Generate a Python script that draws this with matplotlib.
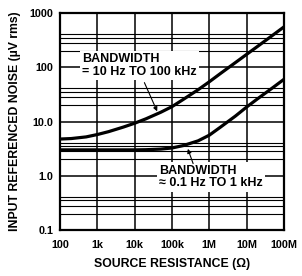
import matplotlib
matplotlib.use("Agg")
import matplotlib.pyplot as plt

# Data
resistance = [1e2, 2e2, 5e2, 1e3, 2e3, 5e3, 1e4, 2e4, 5e4, 1e5, 2e5, 5e5,
              1e6, 2e6, 5e6, 1e7, 2e7, 5e7, 1e8]
noise_wide = [4.75, 4.85, 5.2, 5.75, 6.5, 7.9, 9.3, 11.2, 14.8, 18.8, 25.5, 38.5,
              54, 77, 122, 173, 245, 390, 555]
noise_narrow = [3.0, 3.0, 3.0, 3.0, 3.0, 3.0, 3.0, 3.02, 3.1, 3.25, 3.6, 4.4,
                5.6, 7.9, 12.6, 18.5, 26.5, 42, 60]

x_ticks = [1e2, 1e3, 1e4, 1e5, 1e6, 1e7, 1e8]
x_labels = ["100", "1k", "10k", "100k", "1M", "10M", "100M"]
y_ticks = [0.1, 1, 10, 100, 1000]
y_labels = ["0.1", "1.0", "10.0", "100", "1000"]
minor_mult = [2, 2.8, 3.5, 4.1]

plt.rcParams['font.family'] = ['Liberation Sans', 'DejaVu Sans']
plt.rcParams['font.weight'] = 'bold'

fig = plt.figure(figsize=(3.02, 2.76), dpi=100)
ax = fig.add_axes([60/302, 1-230/276, 224/302, 217/276])
ax.set_xscale('log')
ax.set_yscale('log')
ax.set_xlim(1e2, 1e8)
ax.set_ylim(0.1, 1000)

# grid
for xv in x_ticks[1:-1]:
    ax.axvline(xv, color='black', lw=1.1, zorder=1)
for yv in y_ticks[1:-1]:
    ax.axhline(yv, color='black', lw=1.1, zorder=1)
for dec in y_ticks[:-1]:
    for m in minor_mult:
        ax.axhline(dec*m, color='black', lw=0.8, zorder=1)

ax.plot(resistance, noise_wide, color='black', lw=2.3, zorder=3,
        solid_capstyle='butt', solid_joinstyle='round')
ax.plot(resistance, noise_narrow, color='black', lw=2.3, zorder=3,
        solid_capstyle='butt', solid_joinstyle='round')

ax.set_xticks(x_ticks)
ax.set_xticklabels(x_labels)
ax.set_yticks(y_ticks)
ax.set_yticklabels(y_labels)
ax.minorticks_off()
ax.tick_params(length=0, labelsize=7.8, pad=5)
ax.tick_params(axis='x', pad=7)
for lab in ax.get_xticklabels() + ax.get_yticklabels():
    lab.set_fontweight('bold')
for s in ax.spines.values():
    s.set_linewidth(1.6)

ax.set_xlabel("SOURCE RESISTANCE (Ω)", fontsize=8.8, fontweight='bold', labelpad=6)
ax.set_ylabel("INPUT REFERENCED NOISE (µV rms)", fontsize=8.8, fontweight='bold', labelpad=6)

box = dict(facecolor='white', edgecolor='none', pad=1.5)
ax.text(390, 107, "BANDWIDTH\n= 10 Hz TO 100 kHz", fontsize=9, fontweight='bold',
        ha='left', va='center', bbox=box, zorder=4, linespacing=1.1)
ax.text(4.5e4, 0.95, "BANDWIDTH\n≈ 0.1 Hz TO 1 kHz", fontsize=9, fontweight='bold',
        ha='left', va='center', bbox=box, zorder=4, linespacing=1.1)

ax.annotate("", xy=(4.3e4, 13.8), xytext=(1.7e4, 58),
            arrowprops=dict(arrowstyle='-|>', color='black', lw=0.8, mutation_scale=6), zorder=5)
ax.annotate("", xy=(2.5e5, 3.5), xytext=(3.9e5, 1.5),
            arrowprops=dict(arrowstyle='-|>', color='black', lw=0.8, mutation_scale=6), zorder=5)

fig.savefig("out.png", dpi=100)
